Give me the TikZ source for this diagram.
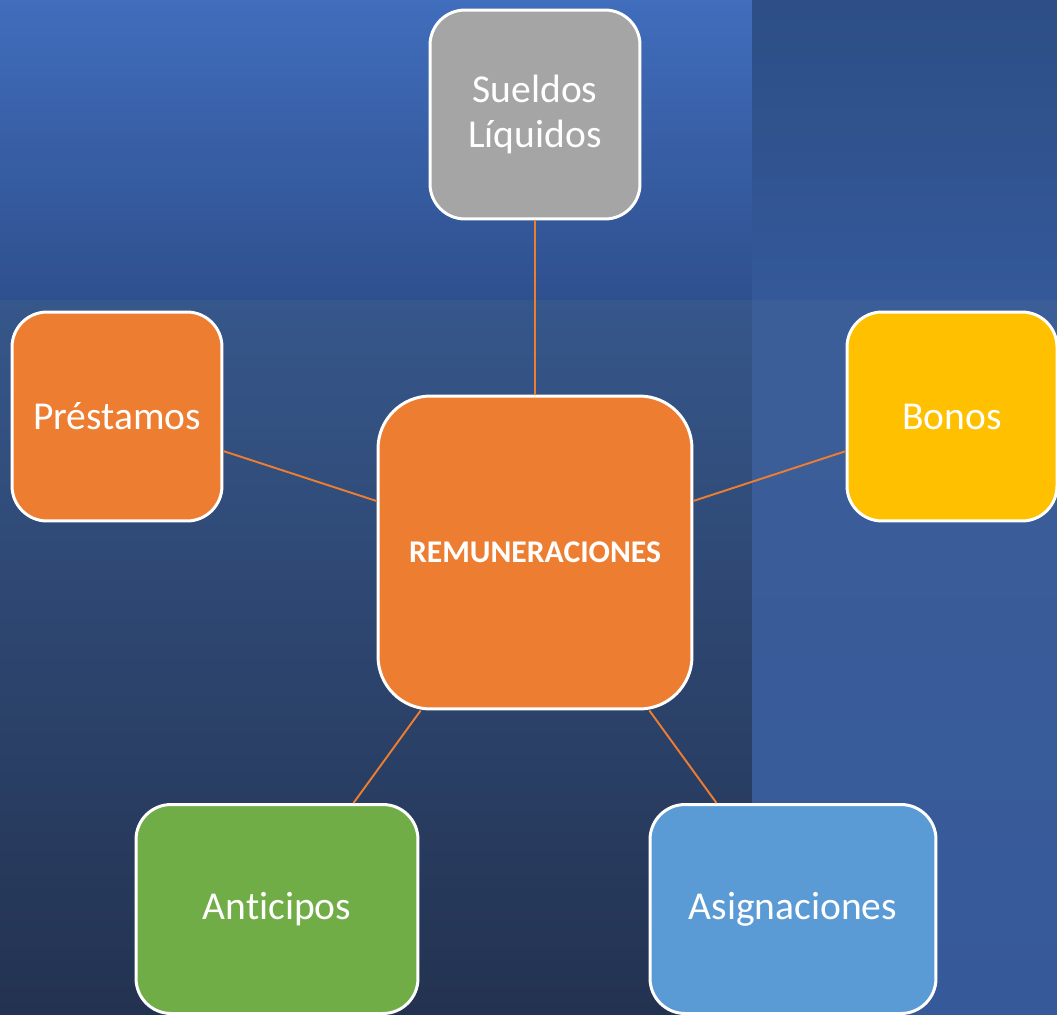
\documentclass[tikz,border=0pt]{standalone}
\usepackage{fontspec}
\setmainfont{Carlito}[Ligatures=NoCommon]
\definecolor{naranja}{RGB}{237,125,49}
\definecolor{gris}{RGB}{165,165,165}
\definecolor{amarillo}{RGB}{255,192,0}
\definecolor{verde}{RGB}{112,173,71}
\definecolor{celeste}{RGB}{91,155,213}

\begin{document}
\begin{tikzpicture}[
        x=0.02cm,y=-0.02cm,
        box/.style={draw=white,line width=1.7pt,rounded corners=0.7cm,
            minimum width=4.2cm,minimum height=4.18cm,align=center,
            text=white,font={\fontsize{22.5}{26}\selectfont}},
        hub/.style={box,rounded corners=1.05cm,minimum width=6.28cm,
            minimum height=6.26cm,font={\fontsize{18}{22}\selectfont\bfseries}},
        link/.style={draw=naranja,line width=1.1pt}
        ]

        % Background panels
        \useasboundingbox (0,0) rectangle (1057,1014);
        \shade[top color={rgb,255:red,64;green,109;blue,188},
               bottom color={rgb,255:red,47;green,80;blue,142}] (0,0) rectangle (752,300);
        \shade[top color={rgb,255:red,45;green,78;blue,134},
               bottom color={rgb,255:red,52;green,89;blue,153}] (752,0) rectangle (1057,300);
        \shade[top color={rgb,255:red,54;green,87;blue,139},
               bottom color={rgb,255:red,35;green,50;blue,80}] (0,300) rectangle (752,1014);
        \shade[top color={rgb,255:red,60;green,94;blue,152},
               bottom color={rgb,255:red,54;green,89;blue,154}] (752,300) rectangle (1057,1014);

        % Boxes
        \node[hub,fill=naranja] (remun) at (535,552.5) {REMUNERACIONES};
        \node[box,fill=gris] (sueldos) at (535,114.5) {Sueldos\\Líquidos};
        \node[box,fill=naranja] (prestamos) at (117,416.5) {Préstamos};
        \node[box,fill=amarillo] (bonos) at (952,416.5) {Bonos};
        \node[box,fill=verde,minimum width=5.64cm] (anticipos) at (277,909) {Anticipos};
        \node[box,fill=celeste,minimum width=5.72cm] (asig) at (793,909) {Asignaciones};

        % Links
        \draw[link] (remun) -- (sueldos);
        \draw[link] (remun) -- (prestamos);
        \draw[link] (remun) -- (bonos);
        \draw[link] (remun) -- (anticipos);
        \draw[link] (remun) -- (asig);
    \end{tikzpicture}
\end{document}
